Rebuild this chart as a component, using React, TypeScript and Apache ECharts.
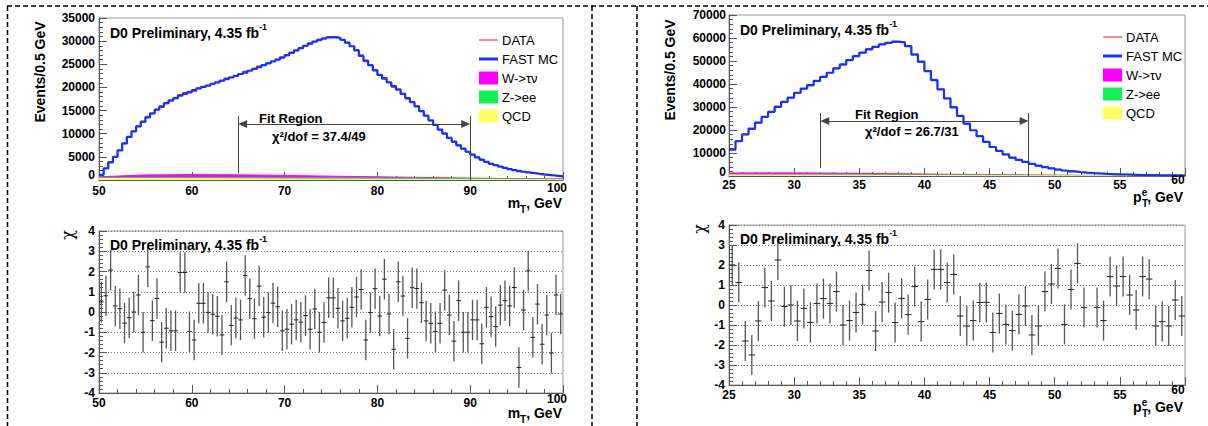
import React, { useEffect, useRef } from "react";
import * as echarts from "echarts";

// ---------- data ----------
const MT_START = 50;
const PT_START = 25;
const BIN = 0.5;

// FAST MC, m_T histogram (bins of 0.5 GeV from 50 to 100)
const mtFastMC = [
  1100, 2500, 3800, 5000, 6400, 7900, 9300, 10500, 11600, 12600,
  13500, 14400, 15200, 15900, 16600, 17200, 17700, 18200, 18600, 19000,
  19400, 19800, 20100, 20400, 20800, 21100, 21500, 21800, 22200, 22500,
  22900, 23200, 23600, 24000, 24400, 24800, 25200, 25600, 26000, 26500,
  27000, 27500, 28000, 28500, 29000, 29500, 29900, 30300, 30600, 30800,
  30850, 30700, 30300, 29700, 28900, 28000, 26800, 25800, 24800, 23700,
  22700, 21900, 21100, 20300, 19500, 18600, 17700, 16800, 15900, 14900,
  13900, 12900, 11900, 10900, 10000, 9100, 8300, 7500, 6800, 6100,
  5500, 4900, 4400, 3900, 3500, 3200, 2900, 2600, 2350, 2150,
  1950, 1780, 1620, 1480, 1350, 1230, 1120, 1020, 900, 780,
];

// chi per m_T bin
const mtChi = [
  0.5, 0.8, 2.07, 0.3, 0.16, -0.55, -0.28, 0.0, 0.84, -1.0,
  2.23, -0.43, 0.67, -1.49, -0.8, -0.93, -0.93, 1.95, 1.95, -0.97,
  -1.38, 0.43, 0.43, -0.02, -0.11, -0.21, -1.13, 1.49, -0.66, -0.3,
  -0.39, 1.8, 0.66, -0.33, 1.28, -0.26, -0.03, 0.44, 0.26, -0.93,
  -0.85, -0.6, -0.39, -0.5, -0.18, -0.85, 0.15, -1.0, -0.52, 0.7,
  0.7, 0.18, -0.44, -0.31, 0.23, 0.74, 1.11, -1.38, -0.03, 1.15,
  -0.2, 1.62, -0.1, -1.84, 1.49, 0.79, -1.3, 1.2, 1.16, 0.46,
  -0.44, -0.56, -0.97, -0.56, 1.08, -0.15, -1.44, 0.56, -1.0, -1.0,
  -0.39, -0.39, -1.57, 0.23, -0.23, -0.72, 0.34, 0.56, 0.3, 1.21,
  -2.74, 0.1, 2.03, -1.25, 0.39, -1.59, -0.15, -2.03, 0.84, -0.1,
];

// FAST MC, electron pT histogram (bins of 0.5 GeV from 25 to 60)
const ptFastMC = [
  11500, 15100, 18150, 20600, 23200, 25700, 27900, 30000, 32200, 34100,
  36200, 38000, 39500, 41400, 43100, 44900, 46800, 48500, 50400, 52100,
  53600, 55000, 56200, 57200, 57900, 58400, 58100, 56500, 52800, 49700,
  45600, 41700, 37600, 33700, 29800, 26100, 22800, 19900, 17300, 14800,
  12600, 10900, 9400, 8000, 7000, 6100, 5300, 4500, 3900, 3300,
  2800, 2400, 2050, 1750, 1500, 1300, 1120, 980, 850, 740,
  650, 570, 500, 440, 390, 340, 300, 270, 240, 210,
];

// chi per pT bin (null = no point drawn)
const ptChi: (number | null)[] = [
  2.0, 1.12, -1.8, -2.5, -0.8, 0.87, 0.2, 2.25, -0.08, 0.0,
  -0.8, -0.17, -0.87, 0.08, 0.32, 0.08, 0.67, -1.0, -0.78, -0.38,
  0.03, 1.72, -1.3, 0.15, 0.62, -0.88, 0.33, -0.48, 0.92, -0.83,
  0.28, 1.78, 1.78, 1.12, 1.53, -0.55, -1.05, -0.78, 0.13, 0.13,
  -1.37, -0.42, -0.97, -1.28, -0.47, -0.05, -1.5, -1.05, 0.67, 1.05,
  1.83, -0.97, 0.78, 2.08, -0.13, null, -0.12, -0.78, 1.42, 0.95,
  1.42, 0.5, -0.25, 1.42, 1.3, -1.05, -0.83, -1.05, 0.25, -0.55,
];

// backgrounds (events / 0.5 GeV)
const mtBgX = [50, 55, 60, 65, 70, 75, 80, 85, 90, 95, 100];
const mtWtaunu = [220, 600, 680, 640, 540, 400, 280, 190, 120, 80, 60];
const mtZee = [150, 180, 200, 220, 240, 260, 270, 250, 200, 150, 120];
const mtQCD = [330, 310, 290, 250, 210, 170, 140, 110, 90, 75, 65];

const ptBgX = [25, 30, 35, 40, 45, 50, 55, 60];
const ptWtaunu = [750, 800, 650, 380, 210, 100, 50, 25];
const ptZee = [150, 200, 250, 280, 250, 170, 100, 70];
const ptQCD = [400, 350, 280, 200, 140, 100, 70, 50];

const legendLabels = ["DATA", "FAST MC", "W->τν", "Z->ee", "QCD"];
const mtFit = [65, 90];
const ptFit = [32, 48];
const mtChi2Text = "χ²/dof = 37.4/49";
const ptChi2Text = "χ²/dof = 26.7/31";
const prelimText = "D0 Preliminary, 4.35 fb";
const mtMaxLabel = "100";
const ptMaxLabel = "60";
const zeroLabel = "0";

// ---------- styles ----------
const F = "Liberation Sans";
const COL = {
  data: "#ff1a1a",
  mc: "#1530ff",
  w: "#ff00ff",
  z: "#14ee55",
  qcd: "#ffff66",
  axis: "#555",
  frame: "#999",
};

function hist(start: number, vals: number[]) {
  const pts = vals.map((v, i) => [start + BIN * i, v]);
  pts.push([start + BIN * vals.length, vals[vals.length - 1]]);
  return pts;
}
function dataHist(start: number, mc: number[], chi: (number | null)[]) {
  return hist(start, mc.map((v, i) => v + (chi[i] ?? 0) * Math.sqrt(v)));
}
function chiPts(start: number, chi: (number | null)[]) {
  const out: number[][] = [];
  chi.forEach((c, i) => {
    if (c !== null && c !== undefined) out.push([start + BIN * (i + 0.5), c]);
  });
  return out;
}

const labelStyle = { fontFamily: F, fontWeight: "bold", fontSize: 12, color: "#000" };

function xAx(gi: number, min: number, max: number, interval: number, margin: number) {
  return {
    type: "value", gridIndex: gi, min, max, interval,
    axisLine: { show: true, onZero: false, lineStyle: { color: COL.axis, width: 1 } },
    axisTick: { show: true, inside: true, length: 8, lineStyle: { color: COL.axis } },
    minorTick: { show: true, splitNumber: 5, length: 4, lineStyle: { color: COL.axis } },
    splitLine: { show: false },
    axisLabel: { ...labelStyle, margin, showMinLabel: true, showMaxLabel: false, formatter: (v: number) => String(v) },
  };
}
function yAx(gi: number, min: number, max: number, interval: number, margin: number, grid: boolean, showMin: boolean) {
  return {
    type: "value", gridIndex: gi, min, max, interval,
    axisLine: { show: true, onZero: false, lineStyle: { color: COL.axis, width: 1 } },
    axisTick: { show: true, inside: true, length: 8, lineStyle: { color: COL.axis } },
    minorTick: { show: true, splitNumber: 5, length: 4, lineStyle: { color: COL.axis } },
    splitLine: { show: grid, lineStyle: { color: "#777", width: 1, type: [1, 2] } },
    axisLabel: { ...labelStyle, margin, showMinLabel: showMin, showMaxLabel: true, formatter: (v: number) => String(v) },
  };
}

function histSeries(name: string, ai: number, pts: number[][], color: string, width: number, z: number, extra: any = {}) {
  return {
    type: "line", name, xAxisIndex: ai, yAxisIndex: ai, data: pts, step: "end",
    symbol: "none", showSymbol: false, silent: true, z,
    lineStyle: { color, width }, itemStyle: { color }, ...extra,
  };
}
function bgSeries(name: string, ai: number, xs: number[], ys: number[], color: string, z: number) {
  return {
    type: "line", name, xAxisIndex: ai, yAxisIndex: ai, data: xs.map((x, i) => [x, ys[i]]),
    symbol: "none", showSymbol: false, silent: true, z,
    lineStyle: { color, width: 1 }, areaStyle: { color, opacity: 1 },
  };
}
function chiSeries(ai: number, pts: number[][]) {
  return {
    type: "custom", xAxisIndex: ai, yAxisIndex: ai, data: pts, clip: true, silent: true, z: 5,
    encode: { x: 0, y: 1 },
    renderItem: (params: any, api: any) => {
      const x = api.value(0);
      const y = api.value(1);
      const a = api.coord([x, y - 1]);
      const b = api.coord([x, y + 1]);
      const c = api.coord([x - BIN / 2, y]);
      const d = api.coord([x + BIN / 2, y]);
      return {
        type: "group",
        children: [
          { type: "line", shape: { x1: a[0], y1: a[1], x2: b[0], y2: b[1] }, style: { stroke: "#555", lineWidth: 1.3 } },
          { type: "line", shape: { x1: c[0], y1: c[1], x2: d[0], y2: d[1] }, style: { stroke: "#222", lineWidth: 1 } },
        ],
      };
    },
  };
}
function fitMark(x1: number, x2: number, lo1: number, lo2: number, top: number, yArrow: number, inset: number) {
  return {
    silent: true, symbol: ["none", "none"], label: { show: false },
    lineStyle: { color: "#444", width: 1, type: "solid" },
    emphasis: { disabled: true },
    data: [
      [{ coord: [x1, lo1] }, { coord: [x1, top] }],
      [{ coord: [x2, lo2] }, { coord: [x2, top] }],
      [
        { coord: [x1 + inset, yArrow], symbol: "triangle", symbolSize: [8, 9] },
        { coord: [x2 - inset, yArrow], symbol: "triangle", symbolSize: [8, 9] },
      ],
    ],
  };
}

function txt(x: number, y: number, text: string, size: number, opts: any = {}) {
  const { bold = false, align = "left", vAlign = "middle", rotation = 0, family = F } = opts;
  return {
    type: "text", x, y, rotation, z: 20, silent: true,
    style: { text, fontFamily: family, fontSize: size, fontWeight: bold ? "bold" : "normal", fill: "#000", align, verticalAlign: vAlign },
  };
}
function prelim(x: number, y: number) {
  return {
    type: "text", x, y, z: 20, silent: true,
    style: {
      text: `{a|${prelimText}}{s|-1}`, align: "left", verticalAlign: "top", fill: "#000",
      rich: {
        a: { fontFamily: F, fontWeight: "bold", fontSize: 14, lineHeight: 18, verticalAlign: "bottom", fill: "#000" },
        s: { fontFamily: F, fontWeight: "bold", fontSize: 9, lineHeight: 9, verticalAlign: "top", fill: "#000" },
      },
    },
  };
}
function mTitle(xRight: number, y: number) {
  return {
    type: "text", x: xRight, y, z: 20, silent: true,
    style: {
      text: "{a|m}{b|T}{a|, GeV}", align: "right", verticalAlign: "top", fill: "#000",
      rich: {
        a: { fontFamily: F, fontWeight: "bold", fontSize: 14, lineHeight: 14, verticalAlign: "top", fill: "#000" },
        b: { fontFamily: F, fontWeight: "bold", fontSize: 10, lineHeight: 18, verticalAlign: "bottom", fill: "#000" },
      },
    },
  };
}
function pTitle(xRight: number, y: number) {
  return [
    {
      type: "text", x: xRight, y, z: 20, silent: true,
      style: {
        text: "{a|p}{s|e}{a|, GeV}", align: "right", verticalAlign: "top", fill: "#000",
        rich: {
          a: { fontFamily: F, fontWeight: "bold", fontSize: 14, lineHeight: 17, verticalAlign: "bottom", fill: "#000" },
          s: { fontFamily: F, fontWeight: "bold", fontSize: 10, lineHeight: 10, verticalAlign: "top", fill: "#000" },
        },
      },
    },
    txt(xRight - 41, y + 16, "T", 10, { bold: true }),
  ];
}
function legend(xs: number, y0: number) {
  const items: any[] = [];
  const step = 19;
  items.push({ type: "line", z: 20, silent: true, shape: { x1: xs, y1: y0, x2: xs + 19, y2: y0 }, style: { stroke: COL.data, lineWidth: 1 } });
  items.push({ type: "line", z: 20, silent: true, shape: { x1: xs, y1: y0 + step, x2: xs + 19, y2: y0 + step }, style: { stroke: COL.mc, lineWidth: 3 } });
  [COL.w, COL.z, COL.qcd].forEach((c, k) => {
    items.push({ type: "rect", z: 20, silent: true, shape: { x: xs, y: y0 + step * (k + 2) - 6.5, width: 19, height: 13 }, style: { fill: c } });
  });
  legendLabels.forEach((l, k) => items.push(txt(xs + 23, y0 + step * k, l, 13)));
  return items;
}

function buildOption() {
  const mtTot = mtWtaunu.map((v, i) => v + mtZee[i] + mtQCD[i]);
  const mtZQ = mtZee.map((v, i) => v + mtQCD[i]);
  const ptTot = ptWtaunu.map((v, i) => v + ptZee[i] + ptQCD[i]);
  const ptZQ = ptZee.map((v, i) => v + ptQCD[i]);

  const dashed = { stroke: "#000", lineWidth: 1.5, lineDash: [5, 3] };
  const graphic: any[] = [
    { type: "line", silent: true, shape: { x1: 7, y1: 6, x2: 1208, y2: 6 }, style: dashed },
    { type: "line", silent: true, shape: { x1: 7.5, y1: 6, x2: 7.5, y2: 426 }, style: dashed },
    { type: "line", silent: true, shape: { x1: 592, y1: 6, x2: 592, y2: 426 }, style: dashed },
    { type: "line", silent: true, shape: { x1: 637, y1: 6, x2: 637, y2: 426 }, style: dashed },
    prelim(110, 22),
    prelim(740, 19),
    prelim(110, 234),
    prelim(740, 228),
    ...legend(479, 40),
    ...legend(1103, 37),
    txt(259, 118, "Fit Region", 13, { bold: true }),
    txt(272, 136, mtChi2Text, 13, { bold: true }),
    txt(855, 114, "Fit Region", 13, { bold: true }),
    txt(865, 131, ptChi2Text, 13, { bold: true }),
    txt(40, 72, "Events/0.5 GeV", 14, { bold: true, align: "center", rotation: Math.PI / 2 }),
    txt(670, 70, "Events/0.5 GeV", 14, { bold: true, align: "center", rotation: Math.PI / 2 }),
    txt(67, 235, "χ", 16, { align: "center", rotation: Math.PI / 2, family: "DejaVu Serif" }),
    txt(699, 229, "χ", 16, { align: "center", rotation: Math.PI / 2, family: "DejaVu Serif" }),
    // raised end labels, as in the reference
    txt(95, 175, zeroLabel, 12, { bold: true, align: "right" }),
    txt(726, 172, zeroLabel, 12, { bold: true, align: "right" }),
    txt(557, 188, mtMaxLabel, 12, { bold: true, align: "center" }),
    txt(557, 399, mtMaxLabel, 12, { bold: true, align: "center" }),
    txt(1178, 180, ptMaxLabel, 12, { bold: true, align: "center" }),
    txt(1178, 390, ptMaxLabel, 12, { bold: true, align: "center" }),
    mTitle(562, 196),
    mTitle(562, 406),
    ...pTitle(1183, 187),
    ...pTitle(1183, 397),
  ];

  const gridBase = { show: true, borderColor: COL.frame, borderWidth: 1, backgroundColor: "transparent", outerBoundsMode: "none" };

  return {
    animation: false,
    backgroundColor: "#fff",
    grid: [
      { ...gridBase, left: 99, top: 18, width: 464, height: 162 },
      { ...gridBase, left: 99, top: 231, width: 464, height: 162 },
      { ...gridBase, left: 729, top: 15, width: 456, height: 161 },
      { ...gridBase, left: 729, top: 225, width: 456, height: 160 },
    ],
    xAxis: [
      xAx(0, 50, 100, 10, 5),
      xAx(1, 50, 100, 10, 4),
      xAx(2, 25, 60, 5, 3),
      xAx(3, 25, 60, 5, 4),
    ],
    yAxis: [
      yAx(0, 0, 35000, 5000, 4, false, false),
      yAx(1, -4, 4, 1, 4, true, true),
      yAx(2, 0, 70000, 10000, 3, false, false),
      yAx(3, -4, 4, 1, 4, true, true),
    ],
    series: [
      bgSeries("W->τν", 0, mtBgX, mtTot, COL.w, 1),
      bgSeries("Z->ee", 0, mtBgX, mtZQ, COL.z, 1),
      bgSeries("QCD", 0, mtBgX, mtQCD, COL.qcd, 1),
      histSeries("DATA", 0, dataHist(MT_START, mtFastMC, mtChi), COL.data, 1.2, 2),
      histSeries("FAST MC", 0, hist(MT_START, mtFastMC), COL.mc, 2.2, 3, {
        markLine: fitMark(mtFit[0], mtFit[1], 1500, 0, 13800, 12100, 0.48),
      }),
      chiSeries(1, chiPts(MT_START, mtChi)),

      bgSeries("W->τν", 2, ptBgX, ptTot, COL.w, 1),
      bgSeries("Z->ee", 2, ptBgX, ptZQ, COL.z, 1),
      bgSeries("QCD", 2, ptBgX, ptQCD, COL.qcd, 1),
      histSeries("DATA", 2, dataHist(PT_START, ptFastMC, ptChi), COL.data, 1.2, 2),
      histSeries("FAST MC", 2, hist(PT_START, ptFastMC), COL.mc, 2.2, 3, {
        markLine: fitMark(ptFit[0], ptFit[1], 3500, 0, 27400, 23900, 0.35),
      }),
      chiSeries(3, chiPts(PT_START, ptChi)),
    ],
    graphic,
  };
}

export default function App() {
  const ref = useRef<HTMLDivElement>(null);
  useEffect(() => {
    if (!ref.current) return;
    const chart = echarts.init(ref.current, null, { renderer: "svg" });
    chart.setOption(buildOption() as any);
    return () => chart.dispose();
  }, []);
  return (
    <div
      ref={ref}
      style={{ position: "fixed", left: 0, top: 0, width: 1208, height: 426, background: "#fff" }}
    />
  );
}
